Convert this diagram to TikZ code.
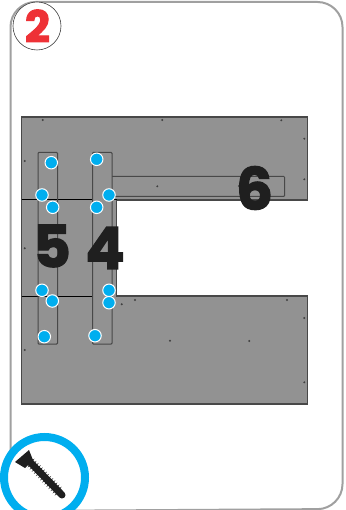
\documentclass[tikz,border=0pt]{standalone}
\usepackage{fontspec}
\setmainfont{Poppins}[BoldFeatures={FakeBold=2.2}]
\usetikzlibrary{decorations.pathmorphing}
\definecolor{frameStroke}{RGB}{160,160,160}
\definecolor{plateFill}{RGB}{146,146,146}
\definecolor{boardStroke}{RGB}{72,72,72}
\definecolor{screwBlue}{RGB}{0,174,239}
\definecolor{stepRed}{RGB}{238,49,54}
\colorlet{ink}{black!88}
\tikzset{
  plate/.style={fill=plateFill, draw=boardStroke, line width=1.1pt},
  seam/.style={draw=black, line width=1pt},
  board/.style={draw=boardStroke, line width=1pt, rounded corners=0.8pt},
  hole/.style={circle, fill=black!75, inner sep=0pt, minimum size=2.2pt},
  screwdot/.style={circle, fill=screwBlue, draw=white, line width=1pt, inner sep=0pt, minimum size=12.5pt},
  numeral/.style={font=\fontsize{58}{58}\selectfont\bfseries, text=ink, inner sep=0pt}
}
\begin{document}
\begin{tikzpicture}[x=1pt,y=-1pt]
  \clip (0,0) rectangle (345,510);

  % outer card
  \draw[draw=frameStroke, line width=2pt, rounded corners=25pt] (10.5,511) -- (10.5,2) -- (342.5,2) -- (342.5,509) -- cycle;

  % step badge
  \node[circle, draw=black!75, fill=white, line width=0.6pt, minimum size=48pt, inner sep=0pt] (badge) at (37,26) {};
  \node[font=\fontsize{44}{44}\selectfont\bfseries, text=stepRed, inner sep=0pt] (steplabel) at (37.5,26) {2};

  % plates
  \draw[plate] (21.5,117) -- (307.5,117) -- (307.5,200) -- (116.7,200) -- (116.7,296) -- (307.5,296) -- (307.5,404) -- (21.5,404) -- cycle;
  \draw[seam] (21.5,200) -- (92.5,200);
  \draw[seam] (21.5,296) -- (92.5,296);
  \draw[seam] (112,200) -- (116.7,200);

  % boards
  \draw[board] (38,152.5) rectangle (57.5,344);
  \draw[board] (92.5,152.5) rectangle (112,344);
  \draw[board] (112,176.5) -- (284.5,176.5) -- (284.5,196.5) -- (112,196.5);

  % holes
  \foreach \hx/\hy [count=\i] in {42.7/120, 162.3/120, 281.3/120.3, 304.3/138.7, 304.3/179.3, 24.7/161, 157.3/186.3, 239/186, 24.7/248.3, 121.7/304.3, 135/300, 170/340.7, 249.3/341, 24.7/350, 287/300, 304.3/318, 304.3/382.3}
    \node[hole] (hole\i) at (\hx,\hy) {};

  % numbers
  \node[numeral] (five) at (52,246) {5};
  \node[numeral] (four) at (105,248) {4};
  \node[numeral] (six) at (254.5,188) {6};

  % screws
  \foreach \sx/\sy [count=\i] in {51.3/162.7, 96.7/159.3, 42/195, 52.7/207.3, 96.7/207.3, 109/195, 42/290.3, 52.3/301, 109/290.3, 109/302.7, 44.3/336.7, 95/335.7}
    \node[screwdot] (screw\i) at (\sx,\sy) {};

  % screw icon
  \node[circle, draw=screwBlue, fill=white, line width=8pt, minimum size=81pt, inner sep=0pt] (ring) at (44.5,477.5) {};
  \fill[ink] (15,462) -- (29,450) -- (33,460) -- (25,468) -- cycle;
  \draw[ink, line width=7pt, line cap=round] (27,459) -- (62,495);
  \draw[ink, line width=0.8pt, decorate, decoration={zigzag, segment length=3pt, amplitude=3.6pt}] (30,462) -- (60,493);
\end{tikzpicture}
\end{document}
